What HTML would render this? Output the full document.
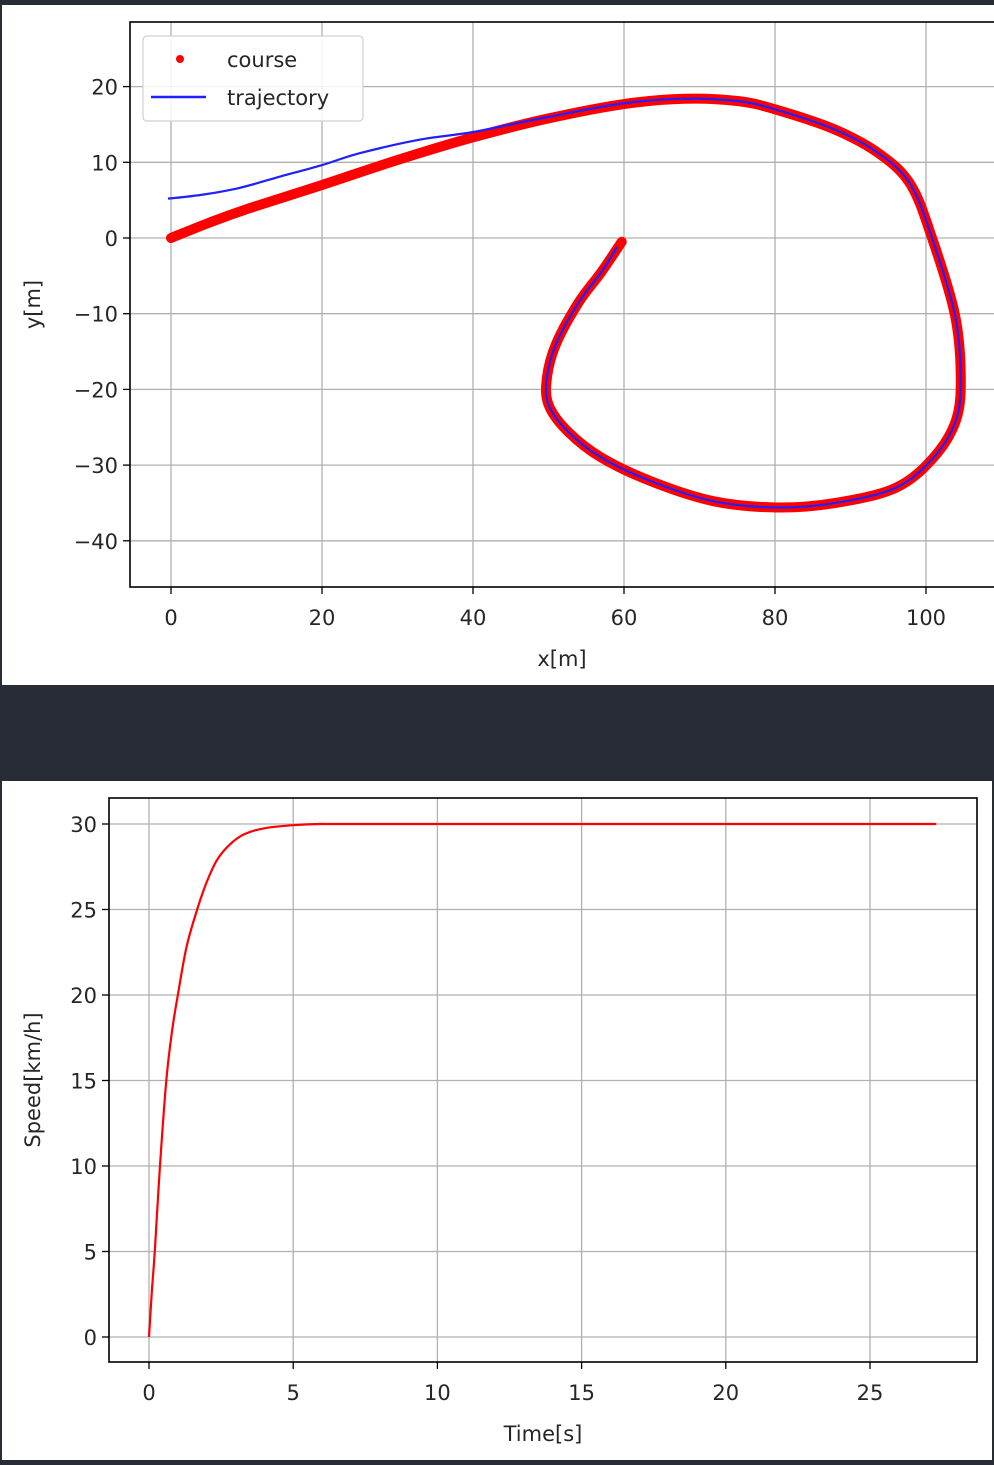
<!DOCTYPE html>
<html><head><meta charset="utf-8"><style>
html,body{margin:0;padding:0;background:#282c34;width:994px;height:1465px;overflow:hidden}
svg{display:block}
text{font-family:"DejaVu Sans","Liberation Sans",sans-serif;fill:#262626}
</style></head><body>
<svg id="fig" width="994" height="1465">
<rect x="2" y="5" width="992" height="680" fill="#fff"/>
<rect x="2" y="781" width="990" height="679" fill="#fff"/>
<g id="topChart"></g>
<g id="botChart"></g>
</svg>
<script>
const courseX=[0,5,10,20,30,40,50,60,68,75,80,88,94,98,100.8,103.8,104.6,104,101,96,88,80.3,72,64,57,52.5,50,49.8,51,54,57,59.7];
const courseY=[0,2,3.8,7,10.3,13.3,15.8,17.7,18.4,18.1,17.0,14.3,11,7,0,-10,-18,-24,-29,-33,-35,-35.6,-34.8,-32.3,-29,-25.5,-22,-18.4,-14,-8.5,-4.5,-0.5];
const trajX=[-0.4,4,9,14.4,19.9,25,33,40,50,60,68,75,80,88,94,98,100.8,103.8,104.6,104,101,96,88,80.3,72,64,57,52.5,50,49.8,51,54,57,59.1];
const trajY=[5.2,5.7,6.6,8.1,9.6,11.2,13.0,14.0,16,17.8,18.4,18.1,17.0,14.3,11,7,0,-10,-18,-24,-29,-33,-35,-35.6,-34.8,-32.3,-29,-25.5,-22,-18.4,-14,-8.5,-4.5,-1.2];
const xTicks=[0,20,40,60,80,100];
const yTicks=[20,10,0,-10,-20,-30,-40];
const timeS=[0,0.1,0.2,0.38,0.6,0.8,1.0,1.3,1.67,2.0,2.36,2.8,3.3,4,5,6,8,27.3];
const speedV=[0,2.7,5,10,15,17.9,20,22.8,25,26.6,27.9,28.8,29.4,29.75,29.93,30,30,30];
const tTicks=[0,5,10,15,20,25];
const vTicks=[0,5,10,15,20,25,30];
const NS='http://www.w3.org/2000/svg';
function mk(p,tag,a,txt){const e=document.createElementNS(NS,tag);for(const k in a)e.setAttribute(k,a[k]);if(txt!=null)e.textContent=txt;p.appendChild(e);return e;}
function smooth(pts){let d='M'+pts[0][0]+','+pts[0][1];
 for(let i=0;i<pts.length-1;i++){const p0=pts[Math.max(i-1,0)],p1=pts[i],p2=pts[i+1],p3=pts[Math.min(i+2,pts.length-1)];
  const c1x=p1[0]+(p2[0]-p0[0])/6,c1y=p1[1]+(p2[1]-p0[1])/6,c2x=p2[0]-(p3[0]-p1[0])/6,c2y=p2[1]-(p3[1]-p1[1])/6;
  d+=' C'+c1x+','+c1y+' '+c2x+','+c2y+' '+p2[0]+','+p2[1];}
 return d;}
function chart(g,L,T,R,B,xs,ys,xt,yt,xl,yl,xlX){
 for(const v of xt){const x=xs(v);
  const l=mk(g,'line',{x1:x,x2:x,y1:T,y2:B,stroke:'#b0b0b0','stroke-width':1.3});
  
  
  mk(g,'line',{x1:x,x2:x,y1:B,y2:B+7,stroke:'#000','stroke-width':1.3});
  const t=mk(g,'text',{x:x,y:B+38,'text-anchor':'middle','font-size':21},String(v));
  
  }
 for(const v of yt){const y=ys(v);
  const l=mk(g,'line',{x1:L,x2:R,y1:y,y2:y,stroke:'#b0b0b0','stroke-width':1.3});
  
  
  mk(g,'line',{x1:L-7,x2:L,y1:y,y2:y,stroke:'#000','stroke-width':1.3});
  const t=mk(g,'text',{x:L-12,y:y+8,'text-anchor':'end','font-size':21},String(v).replace('-','\u2212'));
  
  }
 const xa=mk(g,'text',{x:xlX,y:B+79,'text-anchor':'middle','font-size':21},xl);
 
 
 const yc=(T+B)/2;
 const ya=mk(g,'text',{x:0,y:0,'text-anchor':'middle','font-size':21,transform:'translate(40,'+yc+') rotate(-90)'},yl);
 
 
}
function frame(g,L,T,R,B){const f=mk(g,'rect',{x:L,y:T,width:R-L,height:B-T,fill:'none',stroke:'#000','stroke-width':1.6});
 
 }
const gTop=document.getElementById('topChart');
const tL=130,tT=22,tR=1010,tB=587;
const xs1=v=>171+v*7.55, ys1=v=>238-v*7.57;
chart(gTop,tL,tT,tR,tB,xs1,ys1,xTicks,yTicks,'x[m]','y[m]',562);
const cPts=courseX.map((x,i)=>[xs1(x),ys1(courseY[i])]);
const cLine=mk(gTop,'path',{d:smooth(cPts),fill:'none',stroke:'#ff0000','stroke-width':10,'stroke-linecap':'round','stroke-linejoin':'round'});


const tPts=trajX.map((x,i)=>[xs1(x),ys1(trajY[i])]);
const tLine=mk(gTop,'path',{d:smooth(tPts),fill:'none',stroke:'#2020ff','stroke-width':2.2,'stroke-linejoin':'round'});


frame(gTop,tL,tT,tR,tB);
const lg=mk(gTop,'g',{});


mk(lg,'rect',{x:143,y:36,width:220,height:85,rx:4,fill:'#fff','fill-opacity':0.85,stroke:'#d0d0d0','stroke-width':1.2});
mk(lg,'circle',{cx:180,cy:59,r:4,fill:'#ff0000'});
mk(lg,'text',{x:227,y:67,'font-size':21},'course');
mk(lg,'line',{x1:151,x2:206,y1:97,y2:97,stroke:'#2020ff','stroke-width':2.5});
mk(lg,'text',{x:227,y:105,'font-size':21},'trajectory');
const gBot=document.getElementById('botChart');
const bL=109,bT=798,bR=977,bB=1362;
const xs2=v=>149+v*28.84, ys2=v=>1337-v*17.1;
chart(gBot,bL,bT,bR,bB,xs2,ys2,tTicks,vTicks,'Time[s]','Speed[km/h]',543);
const sPts=timeS.map((t,i)=>[xs2(t),ys2(speedV[i])]);
const sLine=mk(gBot,'path',{d:smooth(sPts),fill:'none',stroke:'#ff0000','stroke-width':2.2,'stroke-linejoin':'round'});


frame(gBot,bL,bT,bR,bB);
</script>
</body></html>
